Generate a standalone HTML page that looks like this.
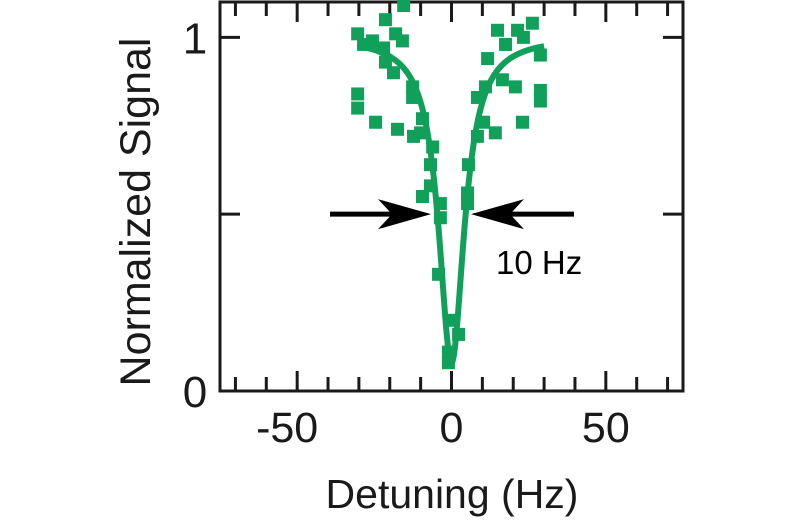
<!DOCTYPE html>
<html><head><meta charset="utf-8"><style>
html,body{margin:0;padding:0;background:#fff;}
svg{display:block;font-family:"Liberation Sans",Arial,sans-serif;}
</style></head><body>
<svg id="chart" width="800" height="530" viewBox="0 0 800 530">
<g id="frame-g"></g>
<g id="data-g"></g>
</svg>
<script>
const detuning = [-15.5,-21.4,-30.4,-25.6,-18.1,-15.9,-28.5,-22.0,-21.4,-18.8,-30.4,-30.4,-24.6,-17.5,-12.3,-10.0,-12.6,-12.6,-9.4,-6.1,-6.8,-6.8,-9.4,
14.9,21.4,26.2,23.3,17.5,11.7,28.8,16.5,20.7,11.0,8.4,28.8,28.8,23.0,10.4,14.2,8.4,5.5,5.2,-3.6,-3.6,5.2,-4.2,0.6,2.3,-1.0,-1.0];
const signal = [1.09,1.05,1.01,0.99,1.01,0.99,0.98,0.97,0.93,0.90,0.84,0.80,0.76,0.74,0.72,0.73,0.86,0.83,0.77,0.69,0.64,0.58,0.55,
1.02,1.02,1.04,1.00,0.98,0.94,0.95,0.88,0.86,0.86,0.83,0.85,0.82,0.76,0.76,0.73,0.72,0.64,0.56,0.53,0.49,0.53,0.33,0.20,0.16,0.11,0.08];
const fitDepth = [0.92];
const fitHalfWidth = [5];
const fitRange = [-30, 30];
const xTicks = [-70,-60,-50,-40,-30,-20,-10,0,10,20,30,40,50,60,70];
const xTickLabels = ["-50","0","50"];
const xLabelValues = [-50,0,50];
const yTickValues = [0,0.5,1];
const yTickLabels = ["0","","1"];

const NS="http://www.w3.org/2000/svg";
const L=220,R=683,T=2,B=391;
const xMin=-75,xMax=75,yMin=0,yMax=1.1;
function sx(v){return L+(v-xMin)/(xMax-xMin)*(R-L);}
function sy(v){return B-(v-yMin)/(yMax-yMin)*(B-T);}
function mk(tag,attrs,parent){const e=document.createElementNS(NS,tag);for(const k in attrs)e.setAttribute(k,attrs[k]);parent.appendChild(e);return e;}
const fg=document.getElementById('frame-g'), dg=document.getElementById('data-g');
const black="#1a1a1a", green="#10a05a";

xTicks.forEach(v=>{
  const major = xLabelValues.includes(v);
  const len = major?20:14;
  const b=mk('line',{x1:sx(v),x2:sx(v),y1:B,y2:B-len,stroke:black,'stroke-width':3},fg);
  
  
  const t=mk('line',{x1:sx(v),x2:sx(v),y1:T,y2:T+len,stroke:black,'stroke-width':3},fg);
  
  
});
yTickValues.forEach((v,i)=>{
  const l=mk('line',{x1:L,x2:L+20,y1:sy(v),y2:sy(v),stroke:black,'stroke-width':3},fg);
  
  
  const r=mk('line',{x1:R,x2:R-20,y1:sy(v),y2:sy(v),stroke:black,'stroke-width':3},fg);
  
  
  if(yTickLabels[i]){
    const tx=mk('text',{x:195,y:sy(v)+16,'font-size':44,'text-anchor':'middle',fill:black},fg);
    tx.textContent=yTickLabels[i];
    
    
  }
});
xLabelValues.forEach((v,i)=>{
  const tx=mk('text',{x:sx(v)-(v<0?10:0),y:442,'font-size':43,'text-anchor':'middle',fill:black},fg);
  tx.textContent=xTickLabels[i];
  
  
});
const fr=mk('rect',{x:L,y:T,width:R-L,height:B-T,fill:'none',stroke:black,'stroke-width':3},fg);



const xt=mk('text',{x:452,y:508,'font-size':41,'text-anchor':'middle',fill:black},fg);
xt.textContent="Detuning (Hz)";


const yt=mk('text',{x:0,y:0,'font-size':43,'text-anchor':'middle',fill:black,transform:'translate(150,212) rotate(-90)'},fg);
yt.textContent="Normalized Signal";



detuning.forEach((x,i)=>{
  const r=mk('rect',{x:sx(x)-6.5,y:sy(signal[i])-6.5,width:13,height:13,fill:green},dg);
  
  
});
let d="";
for(let k=0;k<=300;k++){
  const x=fitRange[0]+(fitRange[1]-fitRange[0])*k/300;
  const g=fitHalfWidth[0];
  const y=1-fitDepth[0]*g*g/(x*x+g*g);
  d+=(k?"L":"M")+sx(x).toFixed(2)+","+sy(y).toFixed(2);
}
const fit=mk('path',{d:d,fill:'none',stroke:green,'stroke-width':6,'stroke-linejoin':'round'},dg);



const ay=sy(0.5);
const la=mk('line',{x1:330,x2:400,y1:ay,y2:ay,stroke:'#000','stroke-width':5},dg);


const lh=mk('path',{d:`M431,${ay} L378,${ay-15} L392,${ay} L378,${ay+15} Z`,fill:'#000'},dg);


const ra=mk('line',{x1:500,x2:574,y1:ay,y2:ay,stroke:'#000','stroke-width':5},dg);


const rh=mk('path',{d:`M471,${ay} L524,${ay-15} L510,${ay} L524,${ay+15} Z`,fill:'#000'},dg);


const lab=mk('text',{x:496,y:274,'font-size':33,fill:'#000'},dg);
lab.textContent="10 Hz";


</script>
</body></html>
